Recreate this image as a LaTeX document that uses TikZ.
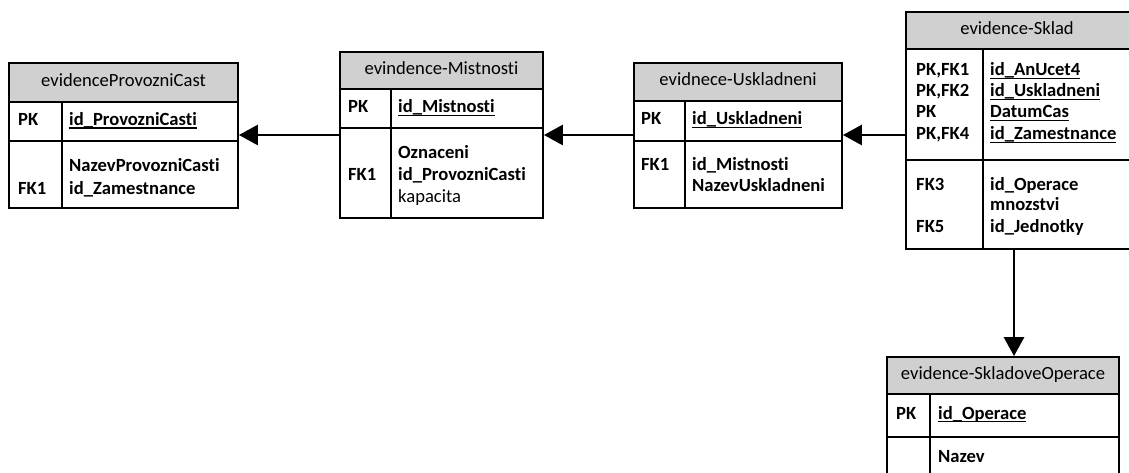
\documentclass[tikz,border=0pt]{standalone}
\usepackage{fontspec}
\setmainfont{Carlito}[Ligatures={NoCommon}]
\usetikzlibrary{arrows.meta,fit}
\definecolor{hdrgray}{RGB}{208,208,208}
\newcommand\uln[1]{\setbox0\hbox{#1}\rlap{\rule[-3.2pt]{\wd0}{1.6pt}}\box0}
\newcommand\erdbox[8]{% name, x1, y1, x2, yh, yp, y2, xd
  \fill[hdrgray] (#2,#3) rectangle (#4,#5);
  \draw[tline] (#2,#5) -- (#4,#5) (#2,#6) -- (#4,#6) (#8,#5) -- (#8,#7);
  \node[tline, draw, fit={(#2,#3) (#4,#7)}, inner sep=0pt] (#1) {};
}
\begin{document}
\begin{tikzpicture}[x=1pt,y=-1pt,
  tline/.style={line width=1.8pt, black},
  conn/.style={line width=2.8pt, -{Triangle[length=19pt,width=20pt]}},
  base/.style={inner sep=0pt, text height=12pt, text depth=4pt},
  htxt/.style={base, anchor=center, font=\fontsize{18.6}{21}\selectfont},
  ktxt/.style={base, anchor=west, font=\fontsize{18.6}{21}\selectfont\bfseries},
  atxt/.style={base, anchor=west, font=\fontsize{18.6}{21}\selectfont\bfseries},
  ntxt/.style={base, anchor=west, font=\fontsize{18.6}{21}\selectfont},
]
\useasboundingbox[fill=white] (0,0) rectangle (1129,473);

% tables
\erdbox{t1}{9}{63}{238}{102}{141}{208}{62}
\erdbox{t2}{340}{52}{543}{89}{128}{218}{391}
\erdbox{t3}{634}{63}{842}{101}{141}{208}{685}
\erdbox{t4}{906}{12}{1130}{49}{160}{249}{983}
\erdbox{t5}{887}{357}{1119}{394}{437}{480}{930}

% T1
\node[htxt] (t1h) at (123.5,82.5) {evidenceProvozniCast};
\node[ktxt] (t1k1) at (18,121.5) {PK};
\node[atxt] (t1a1) at (69,121.5) {\uln{id\_ProvozniCasti}};
\node[atxt] (t1a2) at (69,168) {NazevProvozniCasti};
\node[ktxt] (t1k2) at (18,190) {FK1};
\node[atxt] (t1a3) at (69,190) {id\_Zamestnance};

% T2
\node[htxt] (t2h) at (441.5,70.5) {evindence-Mistnosti};
\node[ktxt] (t2k1) at (348,109) {PK};
\node[atxt] (t2a1) at (398,109) {\uln{id\_Mistnosti}};
\node[atxt] (t2a2) at (398,155) {Oznaceni};
\node[ktxt] (t2k2) at (348,177) {FK1};
\node[atxt] (t2a3) at (398,177) {id\_ProvozniCasti};
\node[ntxt] (t2a4) at (398,198) {kapacita};

% T3
\node[htxt] (t3h) at (738,82) {evidnece-Uskladneni};
\node[ktxt] (t3k1) at (641,121) {PK};
\node[atxt] (t3a1) at (692,121) {\uln{id\_Uskladneni}};
\node[ktxt] (t3k2) at (641,167) {FK1};
\node[atxt] (t3a2) at (692,167) {id\_Mistnosti};
\node[atxt] (t3a3) at (692,188) {NazevUskladneni};

% T4
\node[htxt] (t4h) at (1017,30.5) {evidence-Sklad};
\node[ktxt] (t4k1) at (916,72) {PK,FK1};
\node[atxt] (t4a1) at (990,72) {\uln{id\_AnUcet4}};
\node[ktxt] (t4k2) at (916,93) {PK,FK2};
\node[atxt] (t4a2) at (990,93) {\uln{id\_Uskladneni}};
\node[ktxt] (t4k3) at (916,114) {PK};
\node[atxt] (t4a3) at (990,114) {\uln{DatumCas}};
\node[ktxt] (t4k4) at (916,136) {PK,FK4};
\node[atxt] (t4a4) at (990,136) {\uln{id\_Zamestnance}};
\node[ktxt] (t4k5) at (916,186) {FK3};
\node[atxt] (t4a5) at (990,186) {id\_Operace};
\node[atxt] (t4a6) at (990,207) {mnozstvi};
\node[ktxt] (t4k6) at (916,228) {FK5};
\node[atxt] (t4a7) at (990,228) {id\_Jednotky};

% T5
\node[htxt] (t5h) at (1003,375.5) {evidence-SkladoveOperace};
\node[ktxt] (t5k1) at (896,415) {PK};
\node[atxt] (t5a1) at (938,415) {\uln{id\_Operace}};
\node[atxt] (t5a2) at (938,458) {Nazev};

% connectors
\coordinate (ay) at (0,135);
\coordinate (vx) at (1014,0);
\draw[conn] (t2.west |- ay) -- (t1.east |- ay);
\draw[conn] (t3.west |- ay) -- (t2.east |- ay);
\draw[conn] (t4.west |- ay) -- (t3.east |- ay);
\draw[conn] (t4.south -| vx) -- (t5.north -| vx);
\end{tikzpicture}
\end{document}
